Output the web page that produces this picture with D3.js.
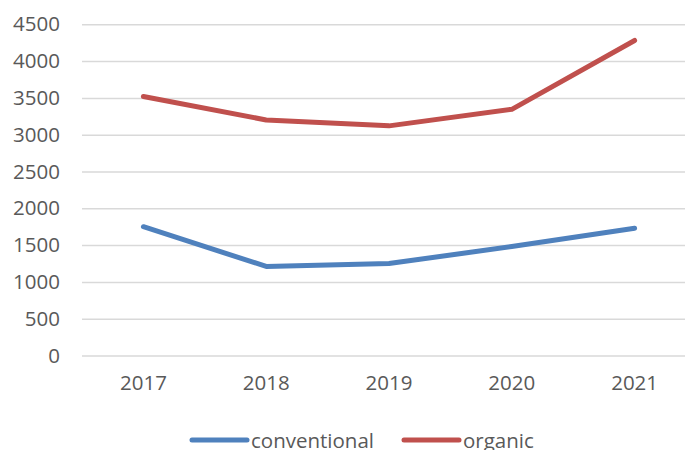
<!DOCTYPE html>
<html>
<head>
<meta charset="utf-8">
<script src="https://cdn.jsdelivr.net/npm/d3@7"></script>
<style>
  html, body { margin: 0; padding: 0; background: #fff; overflow: hidden; }
  #svg-container { width: 685px; height: 450px; }
  text { font-family: "Open Sans", sans-serif; fill: #595959; }
</style>
</head>
<body>
<div id="svg-container"></div>
<script>
////////////////////////////  Data  ////////////////////////////
const years = ["2017", "2018", "2019", "2020", "2021"];
const conventional = [1750, 1210, 1250, 1480, 1730];
const organic = [3520, 3200, 3120, 3345, 4280];
const yTicks = [0, 500, 1000, 1500, 2000, 2500, 3000, 3500, 4000, 4500];

const series = [
  { name: "conventional", values: conventional, color: "#4f81bd" },
  { name: "organic", values: organic, color: "#c0504d" }
];

////////////////////////////  Init  ////////////////////////////
const width = 685;
const height = 450;
const margin = { top: 24.3, right: -11, bottom: 94.5, left: 82 };

const svg = d3.select("#svg-container").append("svg")
  .attr("width", width)
  .attr("height", height);

const xScale = d3.scaleBand()
  .domain(years)
  .range([margin.left, width - margin.right]);

const yScale = d3.scaleLinear()
  .domain([0, 4500])
  .range([height - margin.bottom, margin.top]);

// grid + y labels
const yAxis = d3.axisLeft(yScale)
  .tickValues(yTicks)
  .tickFormat(d3.format("d"))
  .tickSize(-(width - margin.left - margin.right))
  .tickPadding(22);

svg.append("g")
  .attr("class", "y-axis")
  .attr("transform", `translate(${margin.left}, 0)`)
  .call(yAxis)
  .call((g) => g.select(".domain").remove())
  .call((g) => g.selectAll("line").attr("stroke", "#d9d9d9").attr("stroke-width", 1.5))
  .call((g) => g.selectAll("text")
    .attr("font-size", "20.5px")
    .attr("fill", "#595959")
    .attr("font-family", "Open Sans, sans-serif"));

// x labels
const xAxis = d3.axisBottom(xScale).tickSize(0).tickPadding(20);

svg.append("g")
  .attr("class", "x-axis")
  .attr("transform", `translate(0, ${height - margin.bottom})`)
  .call(xAxis)
  .call((g) => g.select(".domain").remove())
  .call((g) => g.selectAll("text")
    .attr("font-size", "20.5px")
    .attr("fill", "#595959")
    .attr("font-family", "Open Sans, sans-serif"));

// lines
const line = d3.line()
  .x((d, i) => xScale(years[i]) + xScale.bandwidth() / 2)
  .y((d) => yScale(d));

svg.selectAll(".series")
  .data(series)
  .enter()
  .append("path")
  .attr("class", "series")
  .attr("d", (d) => line(d.values))
  .attr("fill", "none")
  .attr("stroke", (d) => d.color)
  .attr("stroke-width", 5)
  .attr("stroke-linecap", "round")
  .attr("stroke-linejoin", "round");

// legend (cut off at the bottom edge, as in the source)
const legendX = [192, 404];
const legend = svg.selectAll(".legend")
  .data(series)
  .enter()
  .append("g")
  .attr("class", "legend")
  .attr("transform", (d, i) => `translate(${legendX[i]}, 440)`);

legend.append("line")
  .attr("x1", 0)
  .attr("x2", 55)
  .attr("stroke", (d) => d.color)
  .attr("stroke-width", 5)
  .attr("stroke-linecap", "round");

legend.append("text")
  .attr("x", 59)
  .attr("y", 8)
  .attr("font-size", "20.5px")
  .text((d) => d.name);
</script>
</body>
</html>
